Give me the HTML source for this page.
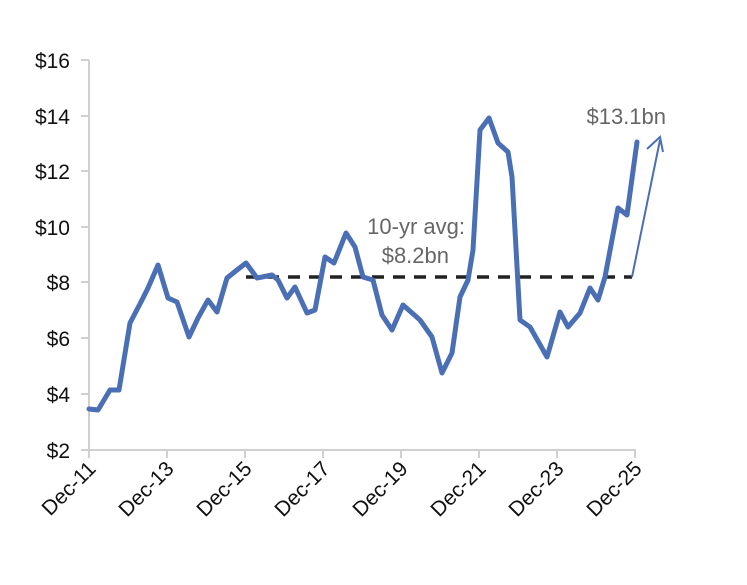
<!DOCTYPE html><html><head><style>body{margin:0;background:#fff}</style></head><body>
<svg width="747" height="580" xmlns="http://www.w3.org/2000/svg" font-family="Liberation Sans, sans-serif">
<g stroke="#d0d0d0" stroke-width="2">
<line x1="89" y1="60" x2="89" y2="451"/><line x1="88" y1="450" x2="636" y2="450"/>
<line x1="81" y1="60" x2="89" y2="60"/><line x1="81" y1="116" x2="89" y2="116"/><line x1="81" y1="171" x2="89" y2="171"/><line x1="81" y1="227" x2="89" y2="227"/><line x1="81" y1="282" x2="89" y2="282"/><line x1="81" y1="338" x2="89" y2="338"/><line x1="81" y1="394" x2="89" y2="394"/><line x1="81" y1="450" x2="89" y2="450"/>
<line x1="89" y1="450" x2="89" y2="458"/><line x1="167" y1="450" x2="167" y2="458"/><line x1="245" y1="450" x2="245" y2="458"/><line x1="323" y1="450" x2="323" y2="458"/><line x1="401" y1="450" x2="401" y2="458"/><line x1="479" y1="450" x2="479" y2="458"/><line x1="557" y1="450" x2="557" y2="458"/><line x1="635" y1="450" x2="635" y2="458"/>
</g>
<g font-size="21" fill="#111" text-anchor="end">
<text x="70" y="68">$16</text><text x="70" y="124">$14</text><text x="70" y="179">$12</text><text x="70" y="235">$10</text><text x="70" y="290">$8</text><text x="70" y="346">$6</text><text x="70" y="402">$4</text><text x="70" y="458">$2</text>
</g>
<g font-size="21" fill="#111" text-anchor="end">
<text transform="translate(97,470) rotate(-45)">Dec-11</text>
<text transform="translate(175,470) rotate(-45)">Dec-13</text>
<text transform="translate(253,470) rotate(-45)">Dec-15</text>
<text transform="translate(331,470) rotate(-45)">Dec-17</text>
<text transform="translate(409,470) rotate(-45)">Dec-19</text>
<text transform="translate(487,470) rotate(-45)">Dec-21</text>
<text transform="translate(565,470) rotate(-45)">Dec-23</text>
<text transform="translate(643,470) rotate(-45)">Dec-25</text>
</g>
<line x1="246" y1="277" x2="632" y2="277" stroke="#222" stroke-width="3.5" stroke-dasharray="12,9"/>
<polyline fill="none" stroke="#4a6fb5" stroke-width="5" stroke-linejoin="round" stroke-linecap="round" points="89,409 98,410 110,390 119,390 130,323 142,300 148,288 158,265 168,298 177,302 189,337 198,318 208,300 217,312 227,278 237,270 246,263 257,278 272,275 278,280 287,298 295,287 307,313 315,310 325,257 334,263 346,233 355,247 363,277 373,280 382,315 392,330 403,305 420,320 432,337 442,373 452,353 460,297 468,280 473,250 480,130 489,118 498,143 508,152 512,177 520,320 530,327 547,357 560,312 568,327 580,313 590,288 598,300 605,277 618,208 627,215 637,142"/>
<line x1="632" y1="277" x2="660" y2="140" stroke="#4a6fb5" stroke-width="2"/>
<polyline points="647,149 660,137 663,152" fill="none" stroke="#4a6fb5" stroke-width="2"/>
<g font-size="22" fill="#666" text-anchor="end">
<text x="666" y="124">$13.1bn</text>
<text x="465" y="234">10-yr avg:</text>
<text x="449" y="263">$8.2bn</text>
</g>
</svg></body></html>
